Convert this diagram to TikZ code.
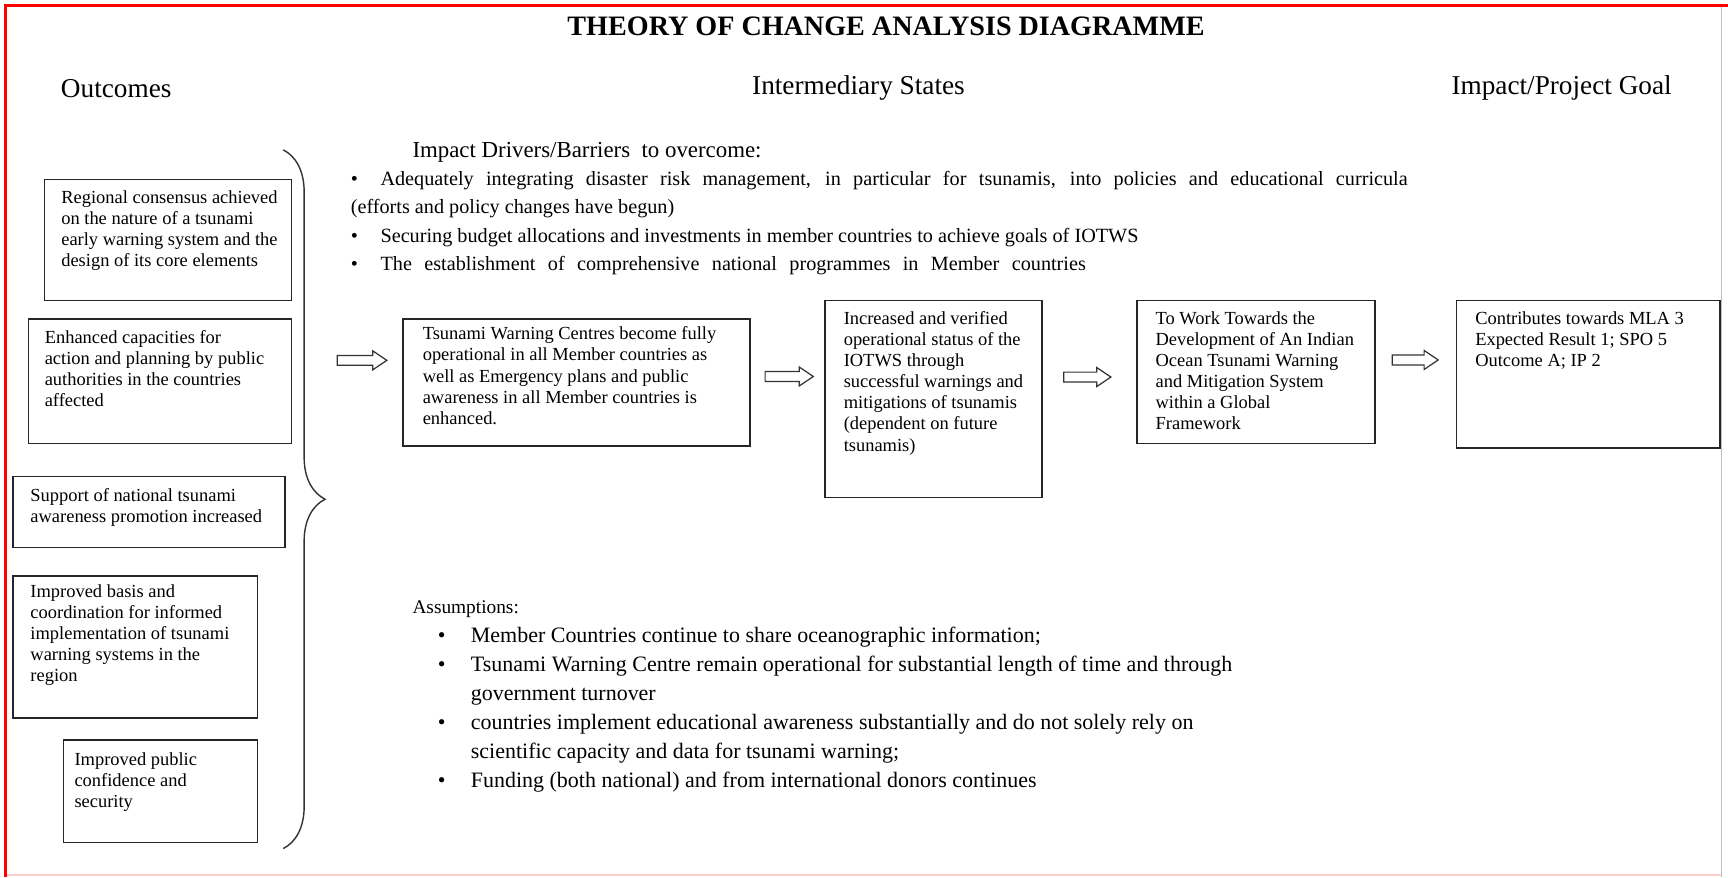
\documentclass[tikz,border=0pt]{standalone}
\usepackage{fontspec}
\setmainfont{Liberation Serif}
\usepackage{tikz}
\usetikzlibrary{arrows.meta,positioning,calc,decorations.pathreplacing}
\newlength\pxl
\setlength\pxl{0.02204cm}
\newcommand{\btxt}[5]{\parbox[t][#2\pxl][t]{#1\pxl}{\vspace*{#4\pxl}\raggedright\leftskip=#3\pxl\relax #5}}
\newcommand{\bul}[1]{\makebox[#1\pxl][l]{\textbullet}}

\begin{document}
\begin{tikzpicture}[x=0.02204cm, y=-0.02204cm]
      \tikzstyle{obox}=[draw=black!85, line width=0.8pt, anchor=north west, inner sep=0pt, font=\fontsize{10.5}{12}\selectfont]
      \tikzstyle{hdr}=[inner sep=0pt, font=\fontsize{15.5}{18}\selectfont]
      \tikzstyle{lst}=[inner sep=0pt, anchor=north west, align=left]
      \tikzstyle{hollow}=[draw=black!80, line width=0.7pt, fill=white, to path={let \p1=(\tikztostart), \p2=(\tikztotarget) in
        (\x1,\y1+2.8pt) -- (\x2-8pt,\y1+2.8pt) -- (\x2-8pt,\y1+5.4pt) -- (\x2,\y1) -- (\x2-8pt,\y1-5.4pt) -- (\x2-8pt,\y1-2.8pt) -- (\x1,\y1-2.8pt) -- cycle}]
      \useasboundingbox[fill=white] (0,0) rectangle (1568,796);
      \draw[red!20, line width=0.8pt] (5,794) -- (1562,794);
      \draw[black!25, line width=0.8pt] (1562,5) -- (1562,796);
      \draw[red, line width=1.8pt] (5,796) -- (5,5) -- (1568,5);

      \node[hdr, font=\fontsize{16}{19}\selectfont\bfseries] (title) at (804,24) {THEORY OF CHANGE ANALYSIS DIAGRAMME};
      \node[hdr, anchor=west] (hout) at (55,80) {Outcomes};
      \node[hdr] (hint) at (779,80) {Intermediary States};
      \node[hdr] (himp) at (1417,80) {Impact/Project Goal};

      \node[obox] (oc1) at (40,162) {\btxt{224}{110}{15}{10}{Regional consensus achieved\\ on the nature of a tsunami\\ early warning system and the\\ design of its core elements}};
      \node[obox] (oc2) at (25,289) {\btxt{239}{113}{15}{10}{Enhanced capacities for\\ action and planning by public\\ authorities in the countries\\ affected}};
      \node[obox] (oc3) at (11,432) {\btxt{247}{64}{16}{11}{Support of national tsunami\\ awareness promotion increased}};
      \node[obox] (oc4) at (11,522) {\btxt{222}{129}{16}{8}{Improved basis and\\ coordination for informed\\ implementation of tsunami\\ warning systems in the\\ region}};
      \node[obox] (oc5) at (57,671) {\btxt{176}{93}{10}{11}{Improved public\\ confidence and\\ security}};

      \coordinate (brtop) at (257,136);
      \coordinate (brbot) at (257,770);
      \coordinate (brtip) at (295,453);
      \draw[black!80, line width=0.8pt, decorate, decoration={brace, amplitude=23.8pt}] (brtop) -- (brbot);

      \node[obox] (twc) at (365,289) {\btxt{315}{115}{18}{7}{Tsunami Warning Centres become fully\\ operational in all Member countries as\\ well as Emergency plans and public\\ awareness in all Member countries is\\ enhanced.}};
      \node[obox] (inc) at (748,272) {\btxt{197}{179}{17}{10}{Increased and verified\\ operational status of the\\ IOTWS through\\ successful warnings and\\ mitigations of tsunamis\\ (dependent on future\\ tsunamis)}};
      \node[obox] (tow) at (1031,272) {\btxt{216}{130}{17}{10}{To Work Towards the\\ Development of An Indian\\ Ocean Tsunami Warning\\ and Mitigation System\\ within a Global\\ Framework}};
      \node[obox] (con) at (1321,272) {\btxt{239}{134}{17}{10}{Contributes towards MLA 3\\ Expected Result 1; SPO 5\\ Outcome A; IP 2}};

      \draw[hollow] ($(brtip)+(11,-126)$) to ($(twc.west)+(-14,0)$);
      \draw[hollow] ($(twc.east)+(13,-5.5)$) to ($(inc.west)+(-10,0)$);
      \draw[hollow] ($(inc.east)+(19,-20)$) to ($(tow.west)+(-23,0)$);
      \draw[hollow] ($(tow.east)+(15,-11)$) to ($(con.west)+(-16,0)$);

      \node[inner sep=0pt, anchor=west, font=\fontsize{13}{15}\selectfont] (drvhd) at (374,138) {Impact Drivers/Barriers\ \ to overcome:};
      \node[lst, font=\fontsize{11.5}{16.1}\selectfont] (drv) at (318,155) {\bul{27}\makebox[932\pxl][s]{Adequately integrating disaster risk management, in particular for tsunamis, into policies and educational curricula}\\ (efforts and policy changes have begun)\\ \bul{27}Securing budget allocations and investments in member countries to achieve goals of IOTWS\\ \bul{27}\makebox[640\pxl][s]{The establishment of comprehensive national programmes in Member countries}};

      \node[inner sep=0pt, anchor=west, font=\fontsize{11}{13}\selectfont] (asmhd) at (374,553) {Assumptions:};
      \node[lst, font=\fontsize{12.5}{16.5}\selectfont] (asm) at (397,569) {\bul{30}Member Countries continue to share oceanographic information;\\ \bul{30}Tsunami Warning Centre remain operational for substantial length of time and through\\ \hspace*{30\pxl}government turnover\\ \bul{30}countries implement educational awareness substantially and do not solely rely on\\ \hspace*{30\pxl}scientific capacity and data for tsunami warning;\\ \bul{30}Funding (both national) and from international donors continues};
    \end{tikzpicture}
\end{document}
